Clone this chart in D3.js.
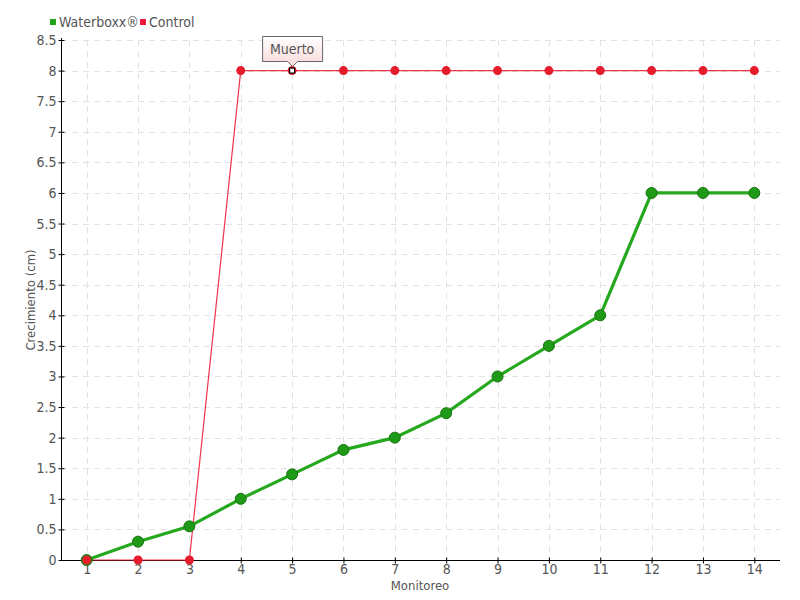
<!DOCTYPE html>
<html><head><meta charset="utf-8">
<script src="https://cdn.jsdelivr.net/npm/d3@7"></script>
<style>
body{margin:0;background:#fff;}
text{font-family:"DejaVu Sans Condensed","DejaVu Sans",sans-serif;font-stretch:condensed;fill:#555;}
</style></head><body>
<svg id="c" width="800" height="600"></svg>
<script>
const categories = ["1","2","3","4","5","6","7","8","9","10","11","12","13","14"];
const waterboxx = [0,0.3,0.55,1,1.4,1.8,2,2.4,3,3.5,4,6,6,6];
const control = [0,0,0,8,8,8,8,8,8,8,8,8,8,8];
const yTicks = [0,0.5,1,1.5,2,2.5,3,3.5,4,4.5,5,5.5,6,6.5,7,7.5,8,8.5];
const seriesNames = ["Waterboxx®","Control"];
const tooltipText = "Muerto";
const tooltipIndex = 4;

const svg = d3.select("#c");
const L=61,R=780,T=40,B=560;
const x = d3.scalePoint().domain(categories).range([L,R]).padding(0.5);
const y = d3.scaleLinear().domain([0,8.5]).range([B,T]);

// grid
const g = svg.append("g");
g.selectAll(".hg").data(yTicks.slice(1)).join("line")
 .attr("x1",L).attr("x2",R).attr("y1",d=>Math.round(y(d))+0.5).attr("y2",d=>Math.round(y(d))+0.5)
 .attr("stroke","#e2e2e2").attr("stroke-dasharray","6,5");
g.selectAll(".vg").data(categories).join("line")
 .attr("x1",d=>Math.round(x(d))+0.5).attr("x2",d=>Math.round(x(d))+0.5).attr("y1",T).attr("y2",B)
 .attr("stroke","#e2e2e2").attr("stroke-dasharray","6,5");

// axes
const ya = svg.append("g").attr("transform",`translate(${L+0.5},0)`)
 .call(d3.axisLeft(y).tickValues(yTicks).tickFormat(d=>d).tickSize(3).tickPadding(4));
ya.select(".domain").attr("stroke","#000").attr("d",`M0,${T-2}V${B}`);
ya.selectAll(".tick line").attr("x2",3).attr("x1",-3).attr("stroke","#000");
ya.selectAll("text").style("font-size","14px").attr("x",-5);

const xa = svg.append("g").attr("transform",`translate(0,${B+0.5})`)
 .call(d3.axisBottom(x).tickSize(3).tickPadding(1));
xa.select(".domain").attr("stroke","#000").attr("d",`M${L},0H${R}`);
xa.selectAll(".tick line").attr("y1",-3).attr("y2",3).attr("stroke","#000");
xa.selectAll("text").style("font-size","14px");

svg.append("text").attr("x",420).attr("y",590).attr("text-anchor","middle").style("font-size","13px").text("Monitoreo");
svg.append("text").attr("transform","translate(35,300) rotate(-90)").attr("text-anchor","middle").style("font-size","13px").text("Crecimiento (cm)");

// lines
const line = d3.line().x((d,i)=>x(categories[i])).y(d=>y(d));
svg.append("path").datum(control).attr("d",line).attr("fill","none").attr("stroke","#ee1c3a").attr("stroke-width",1.2).attr("opacity",0.9);
svg.append("path").datum(waterboxx).attr("d",line).attr("fill","none").attr("stroke","#25a81e").attr("stroke-width",3.2);

svg.selectAll(".wp").data(waterboxx).join("circle")
 .attr("cx",(d,i)=>x(categories[i])).attr("cy",d=>y(d)).attr("r",5.5)
 .attr("fill","#1f9a17").attr("stroke","#16740f").attr("stroke-width",1);
svg.selectAll(".cp").data(control).join("circle")
 .attr("cx",(d,i)=>x(categories[i])).attr("cy",d=>y(d)).attr("r",4.5)
 .attr("fill","#e61b2c");
// highlighted point
const hx = x(categories[tooltipIndex]), hy = y(control[tooltipIndex]);
svg.append("rect").attr("x",hx-2.5).attr("y",hy-2.5).attr("width",5).attr("height",5).attr("fill","#fff").attr("stroke","#000").attr("stroke-width",1.2);

// tooltip
const defs = svg.append("defs");
const grad = defs.append("linearGradient").attr("id","tg").attr("x1",0).attr("y1",0).attr("x2",0).attr("y2",1);
grad.append("stop").attr("offset","0%").attr("stop-color","#fff");
grad.append("stop").attr("offset","100%").attr("stop-color","#fbd7d7");
const bx=hx-29.5, by=36.5, bw=60, bh=25;
svg.append("path").attr("d",`M${bx},${by}h${bw}v${bh}h${-(bw/2-5)}l-5,5l-5,-5h${-(bw/2-5)}z`)
 .attr("fill","url(#tg)").attr("stroke","#666").attr("stroke-width",1);
svg.append("text").attr("x",hx).attr("y",by+17).attr("text-anchor","middle").style("font-size","14px").text(tooltipText);

// legend
const leg = [{n:seriesNames[0],c:"#1fa51a",x:50},{n:seriesNames[1],c:"#ee1c3a",x:140}];
leg.forEach(l=>{
 svg.append("rect").attr("x",l.x).attr("y",19).attr("width",6).attr("height",6).attr("fill",l.c);
 svg.append("text").attr("x",l.x+9).attr("y",27).style("font-size","14px").text(l.n);
});
</script></body></html>
